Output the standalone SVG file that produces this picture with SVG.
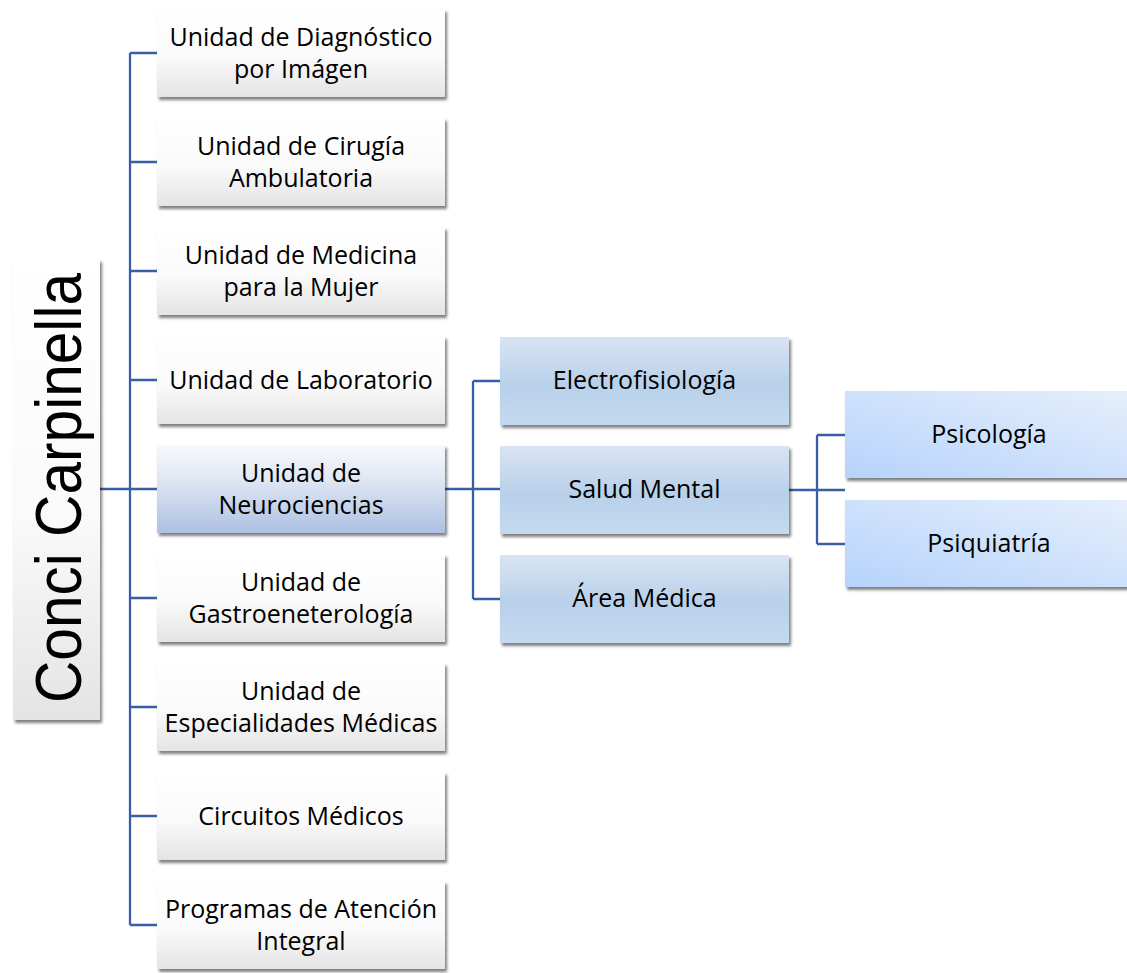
<svg xmlns="http://www.w3.org/2000/svg" width="1127" height="973" viewBox="0 0 1127 973">
<defs>
<linearGradient id="gGrey" x1="0" y1="0" x2="0" y2="1">
<stop offset="0" stop-color="#ffffff"/><stop offset="0.55" stop-color="#fafafa"/><stop offset="1" stop-color="#e4e4e4"/>
</linearGradient>
<linearGradient id="gNeuro" x1="0" y1="0" x2="0" y2="1">
<stop offset="0" stop-color="#f6f8fc"/><stop offset="0.35" stop-color="#e3e9f5"/><stop offset="1" stop-color="#adc0e3"/>
</linearGradient>
<linearGradient id="gL2" x1="0" y1="0" x2="0" y2="1">
<stop offset="0" stop-color="#d9e4f2"/><stop offset="0.55" stop-color="#b8d0ea"/><stop offset="1" stop-color="#c5daf0"/>
</linearGradient>
<linearGradient id="gL3" x1="1" y1="0" x2="0" y2="1">
<stop offset="0" stop-color="#e6effc"/><stop offset="1" stop-color="#b6d3fb"/>
</linearGradient>
<filter id="sh" x="-10%" y="-10%" width="130%" height="140%">
<feDropShadow dx="2" dy="3" stdDeviation="1.6" flood-color="#000" flood-opacity="0.5"/>
</filter>
</defs>
<style>
.box{filter:url(#sh)}
.grey{fill:url(#gGrey)}
.l2{fill:url(#gL2)}
.l3{fill:url(#gL3)}
.t{font-family:"Open Sans","Liberation Sans",sans-serif;font-size:25px;fill:#000;text-anchor:middle}
.conn{fill:none;stroke:#3a5da7;stroke-width:2.3}
</style>
<rect width="1127" height="973" fill="#ffffff"/>
<g id="connectors">
<path class="conn" d="M100 489 H157"/>
<path class="conn" d="M130 53 V925"/>
<path class="conn" d="M130 53 H157 M130 162 H157 M130 271 H157 M130 380 H157 M130 598 H157 M130 707 H157 M130 816 H157 M130 925 H157"/>
<path class="conn" d="M445 489 H500 M473 381 V599 M473 381 H500 M473 599 H500"/>
<path class="conn" d="M789 490 H845 M817 435 V544 M817 435 H845 M817 544 H845"/>
</g>
<g id="root">
<rect class="box grey" x="13" y="259" width="87" height="461"/>
<text transform="translate(81,488) rotate(-90)" font-family="Liberation Sans, Arial, sans-serif" font-size="64" text-anchor="middle" textLength="430" lengthAdjust="spacingAndGlyphs" fill="#000">Conci Carpinella</text>
</g>
<g id="n1">
<rect class="box grey" x="157" y="9" width="288" height="88"/>
<text class="t" x="301" y="46">Unidad de Diagnóstico</text>
<text class="t" x="301" y="78">por Imágen</text>
</g>
<g id="n2">
<rect class="box grey" x="157" y="118" width="288" height="88"/>
<text class="t" x="301" y="155">Unidad de Cirugía</text>
<text class="t" x="301" y="187">Ambulatoria</text>
</g>
<g id="n3">
<rect class="box grey" x="157" y="227" width="288" height="88"/>
<text class="t" x="301" y="264">Unidad de Medicina</text>
<text class="t" x="301" y="296">para la Mujer</text>
</g>
<g id="n4">
<rect class="box grey" x="157" y="336" width="288" height="88"/>
<text class="t" x="301" y="389">Unidad de Laboratorio</text>
</g>
<g id="n5">
<rect class="box" fill="url(#gNeuro)" x="157" y="445" width="288" height="88"/>
<text class="t" x="301" y="482">Unidad de</text>
<text class="t" x="301" y="514">Neurociencias</text>
</g>
<g id="n6">
<rect class="box grey" x="157" y="554" width="288" height="88"/>
<text class="t" x="301" y="591">Unidad de</text>
<text class="t" x="301" y="623">Gastroeneterología</text>
</g>
<g id="n7">
<rect class="box grey" x="157" y="663" width="288" height="88"/>
<text class="t" x="301" y="700">Unidad de</text>
<text class="t" x="301" y="732">Especialidades Médicas</text>
</g>
<g id="n8">
<rect class="box grey" x="157" y="772" width="288" height="88"/>
<text class="t" x="301" y="825">Circuitos Médicos</text>
</g>
<g id="n9">
<rect class="box grey" x="157" y="881" width="288" height="88"/>
<text class="t" x="301" y="918">Programas de Atención</text>
<text class="t" x="301" y="950">Integral</text>
</g>
<g id="e1">
<rect class="box l2" x="500" y="337" width="289" height="88"/>
<text class="t" x="644.5" y="389">Electrofisiología</text>
</g>
<g id="e2">
<rect class="box l2" x="500" y="446" width="289" height="88"/>
<text class="t" x="644.5" y="498">Salud Mental</text>
</g>
<g id="e3">
<rect class="box l2" x="500" y="555" width="289" height="88"/>
<text class="t" x="644.5" y="607">Área Médica</text>
</g>
<g id="p1">
<rect class="box l3" x="845" y="391" width="288" height="87"/>
<text class="t" x="989" y="443">Psicología</text>
</g>
<g id="p2">
<rect class="box l3" x="845" y="500" width="288" height="87"/>
<text class="t" x="989" y="552">Psiquiatría</text>
</g>
</svg>
